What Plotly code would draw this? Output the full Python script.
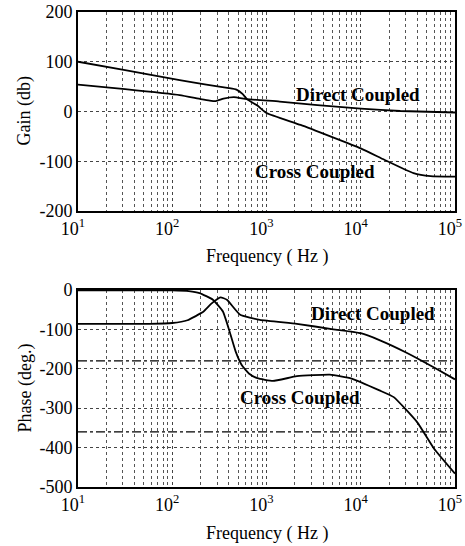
import plotly.graph_objects as go
import numpy as np

# ---------------- data ----------------
gain_cross_f = [10, 31.6, 120, 230, 400, 480, 560, 620, 800, 1000, 2300, 10000, 17800, 36300, 55000, 100000]
gain_cross_v = [100, 83, 63, 54, 47, 44, 35, 25, 12, -3, -27, -74, -97, -124, -130, -131]

gain_direct_f = [10, 31.6, 120, 200, 250, 290, 350, 450, 620, 1380, 3470, 10000, 26300, 100000]
gain_direct_v = [54, 45, 33, 25, 22, 21, 26, 29, 25, 20, 13, 6, 1, -2]

phase_direct_f = [10, 57, 100, 145, 215, 260, 325, 380, 525, 850, 2100, 5100, 10000, 16000, 31000, 60000, 100000]
phase_direct_v = [-86, -86, -84, -77, -55, -35, -19, -25, -63, -76, -86, -100, -110, -128, -160, -197, -227]

phase_cross_f = [10, 100, 150, 195, 270, 345, 405, 470, 550, 650, 800, 1170, 2100, 4700, 8000, 15800, 22400, 39800, 60000, 100000]
phase_cross_v = [-1, -1, -3, -8, -25, -55, -105, -156, -192, -212, -224, -231, -219, -215, -225, -255, -272, -336, -403, -466]

ref_levels = [-180, -360]

xtick_vals = [10, 100, 1000, 10000, 100000]
xtick_text = ["10<sup>1</sup>", "10<sup>2</sup>", "10<sup>3</sup>", "10<sup>4</sup>", "10<sup>5</sup>"]
gain_ticks = [-200, -100, 0, 100, 200]
phase_ticks = [-500, -400, -300, -200, -100, 0]

labels_gain = [("Direct Coupled", 9300, 35), ("Cross Coupled", 3270, -120)]
labels_phase = [("Direct Coupled", 13500, -61), ("Cross Coupled", 2265, -273)]

# ---------------- figure ----------------
FONT = "Liberation Serif, Times New Roman, serif"
minor_vals = [m * 10 ** e for e in range(1, 5) for m in range(2, 10)]

fig = go.Figure()
line = dict(color="black", width=1.8, shape="spline", smoothing=0.4)

fig.add_trace(go.Scatter(x=gain_cross_f, y=gain_cross_v, mode="lines", line=line, xaxis="x", yaxis="y"))
fig.add_trace(go.Scatter(x=gain_direct_f, y=gain_direct_v, mode="lines", line=line, xaxis="x", yaxis="y"))
fig.add_trace(go.Scatter(x=phase_direct_f, y=phase_direct_v, mode="lines", line=line, xaxis="x2", yaxis="y2"))
fig.add_trace(go.Scatter(x=phase_cross_f, y=phase_cross_v, mode="lines", line=line, xaxis="x2", yaxis="y2"))
for lv in ref_levels:
    fig.add_trace(go.Scatter(x=[10, 100000], y=[lv, lv], mode="lines",
                             line=dict(color="black", width=1.2, dash="dashdot"),
                             xaxis="x2", yaxis="y2"))

xcommon = dict(type="log", range=[1, 5], tickvals=xtick_vals, ticktext=xtick_text,
               showgrid=True, gridcolor="#444", griddash="dot", gridwidth=1,
               minor=dict(tickvals=minor_vals, showgrid=True, gridcolor="#555", griddash="dot", gridwidth=1, ticks=""),
               showline=True, linecolor="black", linewidth=2, mirror=True, ticks="",
               tickfont=dict(family=FONT, size=18, color="black"), zeroline=False, automargin=False,
               ticklabeloverflow="allow", ticklabelshift=-5)
ycommon = dict(showgrid=True, gridcolor="#444", griddash="dot", gridwidth=1,
               showline=True, linecolor="black", linewidth=2, mirror=True, ticks="",
               tickfont=dict(family=FONT, size=18, color="black"), zeroline=False, automargin=False,
               ticklabeloverflow="allow")

fig.update_layout(
    width=465, height=546,
    margin=dict(l=78, r=10, t=12, b=59),
    paper_bgcolor="white", plot_bgcolor="white",
    showlegend=False,
    xaxis=dict(xcommon, domain=[0, 1], anchor="y"),
    yaxis=dict(ycommon, domain=[0.581, 1], range=[-200, 200], tickvals=gain_ticks,
               ticktext=[str(v) for v in gain_ticks], anchor="x"),
    xaxis2=dict(xcommon, domain=[0, 1], anchor="y2"),
    yaxis2=dict(ycommon, domain=[0, 0.415], range=[-500, 0], tickvals=phase_ticks,
                ticktext=[str(v) for v in phase_ticks], anchor="x2"),
)

for txt, fx, fy in labels_gain:
    fig.add_annotation(x=np.log10(fx), y=fy, xref="x", yref="y", text="<b>" + txt + "</b>",
                       showarrow=False, font=dict(family=FONT, size=19, color="black"))
for txt, fx, fy in labels_phase:
    fig.add_annotation(x=np.log10(fx), y=fy, xref="x2", yref="y2", text="<b>" + txt + "</b>",
                       showarrow=False, font=dict(family=FONT, size=19, color="black"))

title_font = dict(family=FONT, size=18, color="black")
fig.add_annotation(x=0.5, y=0.581, xref="paper", yref="paper", yanchor="middle", yshift=-45,
                   text="Frequency ( Hz )", showarrow=False, font=title_font)
fig.add_annotation(x=0.5, y=0, xref="paper", yref="paper", yanchor="middle", yshift=-46,
                   text="Frequency ( Hz )", showarrow=False, font=title_font)
fig.add_annotation(x=0, y=(0.581 + 1) / 2, xref="paper", yref="paper", xanchor="center", yanchor="middle",
                   xshift=-53, textangle=-90, text="Gain (db)", showarrow=False, font=title_font)
fig.add_annotation(x=0, y=0.415 / 2, xref="paper", yref="paper", xanchor="center", yanchor="middle",
                   xshift=-53, textangle=-90, text="Phase (deg.)", showarrow=False, font=title_font)

fig.write_html("out.html")
